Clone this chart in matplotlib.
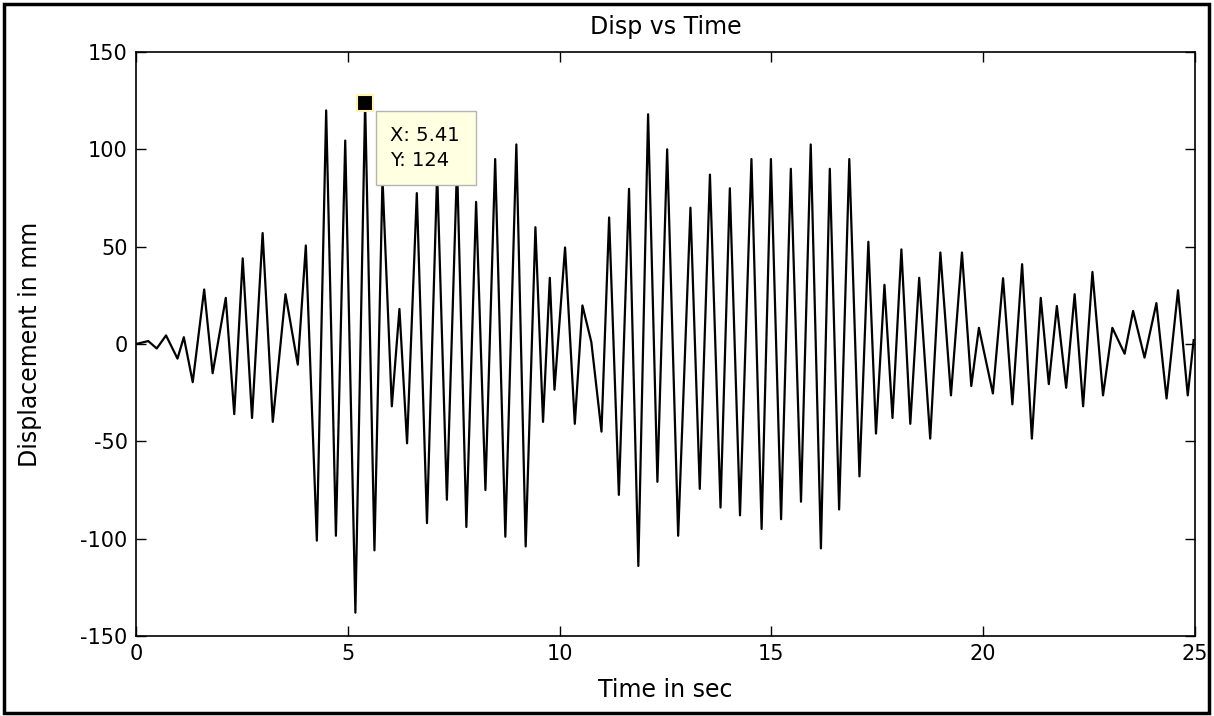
import numpy as np
import matplotlib
matplotlib.use('Agg')
import matplotlib.pyplot as plt
from matplotlib.patches import Rectangle

plt.rcParams['font.family'] = ['DejaVu Sans']
plt.rcParams['axes.unicode_minus'] = False

# peaks / troughs
time_s = [0.00, 0.29, 0.49, 0.71, 0.98, 1.13, 1.34, 1.61, 1.81, 2.12,
          2.32, 2.52, 2.74, 2.99, 3.23, 3.53, 3.82, 4.01, 4.27, 4.49,
          4.72, 4.94, 5.18, 5.41, 5.63, 5.82, 6.04, 6.22, 6.40, 6.63,
          6.87, 7.11, 7.34, 7.58, 7.80, 8.03, 8.25, 8.48, 8.72, 8.98,
          9.20, 9.43, 9.61, 9.77, 9.88, 10.13, 10.36, 10.54, 10.75, 10.99,
          11.17, 11.40, 11.64, 11.86, 12.09, 12.31, 12.54, 12.80, 13.09, 13.31,
          13.55, 13.80, 14.02, 14.26, 14.53, 14.77, 14.99, 15.23, 15.46, 15.70,
          15.93, 16.17, 16.38, 16.60, 16.84, 17.08, 17.29, 17.47, 17.67, 17.86,
          18.07, 18.28, 18.49, 18.75, 18.99, 19.24, 19.50, 19.72, 19.90, 20.23,
          20.47, 20.69, 20.92, 21.15, 21.36, 21.55, 21.74, 21.96, 22.16, 22.36,
          22.58, 22.83, 23.05, 23.34, 23.54, 23.81, 24.09, 24.33, 24.60, 24.83,
          24.97]
disp_mm = [0, 1.5, -2.3, 4.4, -7.5, 3.5, -19.6, 28, -15, 23.7,
           -36, 44, -38, 57, -40, 25.6, -10.6, 50.6, -101, 120,
           -98.5, 104.5, -138, 124, -106, 85, -32, 18, -51, 77.5,
           -92, 88, -80, 92, -94, 73, -75, 95, -99, 102.5,
           -104, 60, -40, 34, -23.5, 49.6, -41, 19.8, 1, -45,
           65, -77.5, 79.7, -114, 118, -70.8, 100, -98.5, 70, -74.4,
           87, -84, 80, -88, 95, -95, 95, -90, 90, -81,
           102.5, -105, 90, -85, 95, -68, 52.5, -46, 30.4, -38,
           48.6, -41, 34, -48.6, 47, -26.4, 47, -21.6, 8.3, -25.4,
           33.8, -31, 41, -48.6, 23.7, -20.6, 19.5, -22.5, 25.6, -32,
           37, -26.4, 8.3, -5, 17, -7, 21, -28, 27.6, -26.4,
           2]

tip_x, tip_y = 5.41, 124

x_ticks = [0, 5, 10, 15, 20, 25]
y_ticks = [-150, -100, -50, 0, 50, 100, 150]

fig = plt.figure(figsize=(12.14, 7.16), dpi=100)
ax = fig.add_axes([0.1120, 0.1117, 0.8723, 0.8157])

ax.plot(time_s, disp_mm, color='black', linewidth=1.6)

# data tip
ax.plot(tip_x, tip_y, marker='s', markersize=11, color='black',
        markeredgecolor='#fff3b0', markeredgewidth=1.5, zorder=5)
ax.annotate(f'X: {tip_x:.2f}\nY: {tip_y}  ', xy=(tip_x, tip_y),
            xytext=(25, -23), textcoords='offset pixels',
            ha='left', va='top', fontsize=14, linespacing=1.45,
            bbox=dict(boxstyle='square,pad=0.75', fc='#ffffe1', ec='#b4b4b4', lw=1),
            zorder=6)

ax.set_xlim(0, 25)
ax.set_ylim(-150, 150)
ax.set_xticks(x_ticks)
ax.set_yticks(y_ticks)
ax.tick_params(direction='in', length=7.5, width=1, top=True, right=True,
               labelsize=15, pad=6)
for sp in ax.spines.values():
    sp.set_linewidth(1.2)

ax.text(0.5, 1.043, 'Disp vs Time', transform=ax.transAxes,
        ha='center', va='center', fontsize=17)
ax.set_xlabel('Time in sec', fontsize=17, va='center')
ax.xaxis.set_label_coords(0.5, -0.0925)
ax.set_ylabel('Displacement in mm', fontsize=17, va='center')
ax.yaxis.set_label_coords(-0.100, 0.5)

# outer frame of the figure window
fig.patches.append(Rectangle((4 / 1214, 3 / 716), 1205 / 1214, 709 / 716,
                             transform=fig.transFigure, fill=False,
                             edgecolor='black', linewidth=2.5))

fig.savefig('out.png', dpi=100)
